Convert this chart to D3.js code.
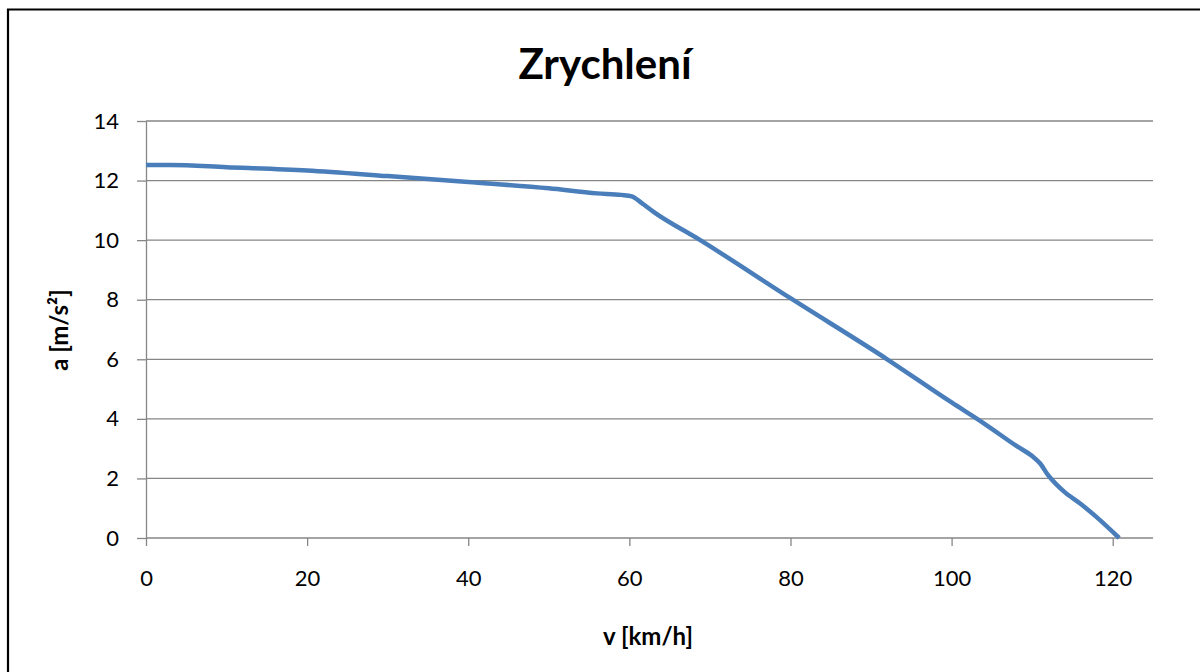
<!DOCTYPE html>
<html><head><meta charset="utf-8">
<script src="https://cdn.jsdelivr.net/npm/d3@7"></script>
<style>body{margin:0;background:#fff}svg{display:block}text{font-family:Lato,"Open Sans",sans-serif}</style>
</head><body><svg id="c" width="1200" height="672"></svg>
<script>
const speeds = [0, 3, 10, 20, 30, 40, 50, 56, 59, 60.3, 61.5, 63, 68.8, 80, 92, 100, 104, 108, 110, 111, 112, 113, 114, 116, 118, 120.8];
const accel  = [12.52, 12.52, 12.45, 12.34, 12.15, 11.95, 11.74, 11.57, 11.52, 11.47, 11.25, 10.95, 10.0, 8.05, 6.0, 4.55, 3.85, 3.1, 2.75, 2.5, 2.1, 1.8, 1.55, 1.15, 0.7, 0];
const xTicks = [0, 20, 40, 60, 80, 100, 120];
const yTicks = [0, 2, 4, 6, 8, 10, 12, 14];
const title = "Zrychlení", xTitle = "v [km/h]", yTitle = "a [m/s²]";

const svg = d3.select("#c");
const L = 146, R = 1153, T = 121, B = 538;
const x = d3.scaleLinear().domain([0, 125]).range([L, R]);
const y = d3.scaleLinear().domain([0, 14]).range([B, T]);

svg.append("path").attr("d", "M8,700V9.5H1210").attr("fill", "none").attr("stroke", "#000").attr("stroke-width", 2.2);

svg.append("g").selectAll("line").data(yTicks.filter(d => d > 0)).join("line")
  .attr("x1", L).attr("x2", R).attr("y1", d => y(d)).attr("y2", d => y(d))
  .attr("stroke", "#868686").attr("stroke-width", 1.3);

const gx = svg.append("g").attr("transform", `translate(0,${B})`)
  .call(d3.axisBottom(x).tickValues(xTicks).tickSize(8).tickPadding(24).tickSizeOuter(0));
const gy = svg.append("g").attr("transform", `translate(${L},0)`)
  .call(d3.axisLeft(y).tickValues(yTicks).tickSize(9).tickPadding(18).tickSizeOuter(0));
[gx, gy].forEach(g => {
  g.select(".domain").attr("stroke", "#868686").attr("stroke-width", 1.3);
  g.selectAll(".tick line").attr("stroke", "#868686").attr("stroke-width", 1.3);
  g.selectAll("text").attr("fill", "#000").style("font-size", "22px").style("font-family", "Lato");
});
gx.select(".domain").attr("d", `M${L},0H${R}`);

const pts = speeds.map((v, i) => [v, accel[i]]);
svg.append("path").datum(pts)
  .attr("d", d3.line().x(d => x(d[0])).y(d => y(d[1])).curve(d3.curveMonotoneX))
  .attr("fill", "none").attr("stroke", "#4a7ebb").attr("stroke-width", 4.5).attr("stroke-linejoin", "round");

svg.append("text").attr("x", 605).attr("y", 79).attr("text-anchor", "middle")
  .style("font-size", "42px").style("font-weight", "bold").text(title);
svg.append("text").attr("x", 648).attr("y", 645).attr("text-anchor", "middle")
  .style("font-size", "24px").style("font-weight", "bold").text(xTitle);
svg.append("text").attr("transform", "translate(68,330) rotate(-90)").attr("text-anchor", "middle")
  .style("font-size", "24px").style("font-weight", "bold").text(yTitle);
</script></body></html>
